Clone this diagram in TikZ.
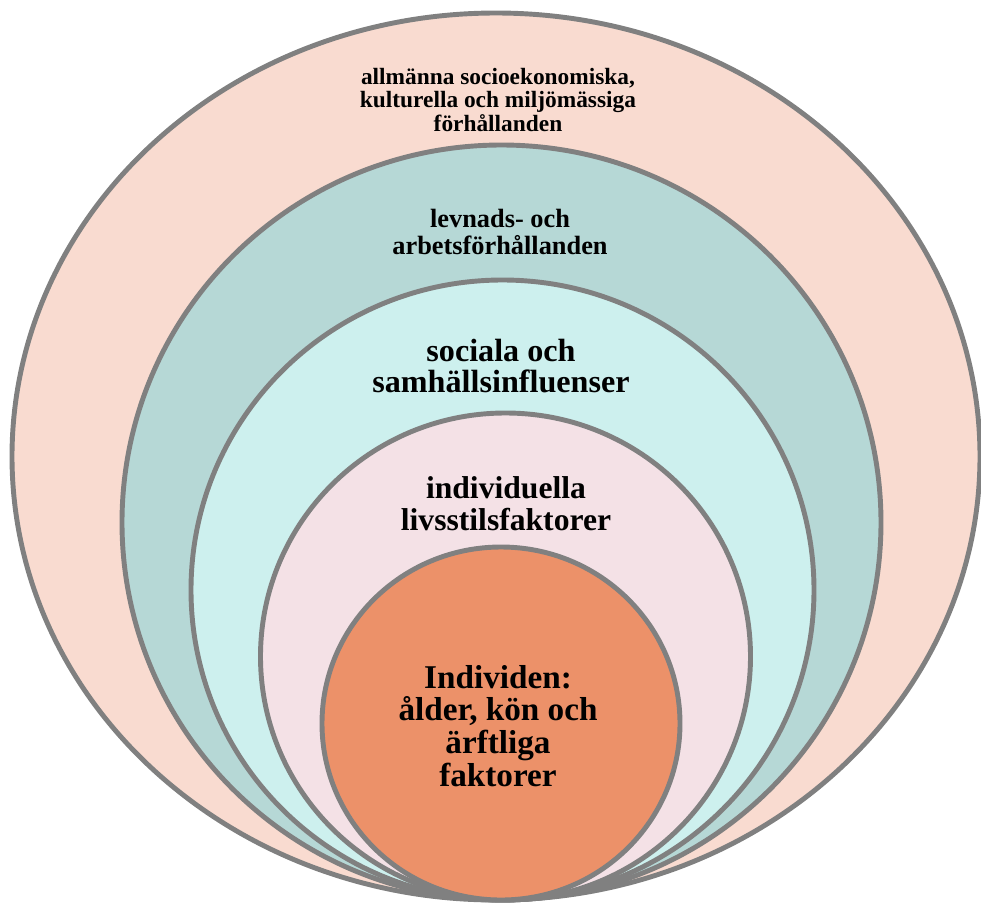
\documentclass[tikz,border=0pt]{standalone}
\usepackage{fontspec}
\setmainfont{Liberation Serif}
\usepackage{xcolor}
\usepackage{tikz}
\tikzset{>=stealth}

\definecolor{ringA}{HTML}{F9DBD0}
\definecolor{ringB}{HTML}{B6D8D6}
\definecolor{ringC}{HTML}{CDF0EE}
\definecolor{ringD}{HTML}{F4E1E6}
\definecolor{ringE}{HTML}{EC9169}
\definecolor{rim}{HTML}{808080}

\tikzset{
  ring/.style={draw=rim,line width=2.8pt},
  lbl/.style={align=center,font=\bfseries}
}

\begin{document}
\begin{tikzpicture}[x=0.02cm,y=-0.02cm]
  \useasboundingbox (0,0) rectangle (981,903);

  % nested rings, all touching at the bottom
  \draw[ring,fill=ringA] (496,456.5) ellipse [x radius=484, y radius=443.5];
  \draw[ring,fill=ringB] (501.5,522.5) ellipse [x radius=379.5, y radius=377.5];
  \draw[ring,fill=ringC] (502.5,590) ellipse [x radius=311.5, y radius=310];
  \draw[ring,fill=ringD] (505.5,656.5) ellipse [x radius=245, y radius=243.5];
  \draw[ring,fill=ringE] (501,723.5) ellipse [x radius=179, y radius=176.5];

  \node[lbl,font=\bfseries\fontsize{13.3}{13.6}\selectfont] at (498,100) (allm) {allmänna socioekonomiska,\\kulturella och miljömässiga\\förhållanden};
  \node[lbl,font=\bfseries\fontsize{15}{15.9}\selectfont] at (500,232) (levn) {levnads- och\\arbetsförhållanden};
  \node[lbl,font=\bfseries\fontsize{18.3}{18.1}\selectfont] at (501,366) (soc) {sociala och\\samhällsinfluenser};
  \node[lbl,font=\bfseries\fontsize{18}{18.1}\selectfont] at (506,504) (indiv) {individuella\\livsstilsfaktorer};
  \node[lbl,font=\bfseries\fontsize{18.9}{18.7}\selectfont] at (498,726) (kern) {Individen:\\ålder, kön och\\ärftliga\\faktorer};

\end{tikzpicture}
\end{document}
